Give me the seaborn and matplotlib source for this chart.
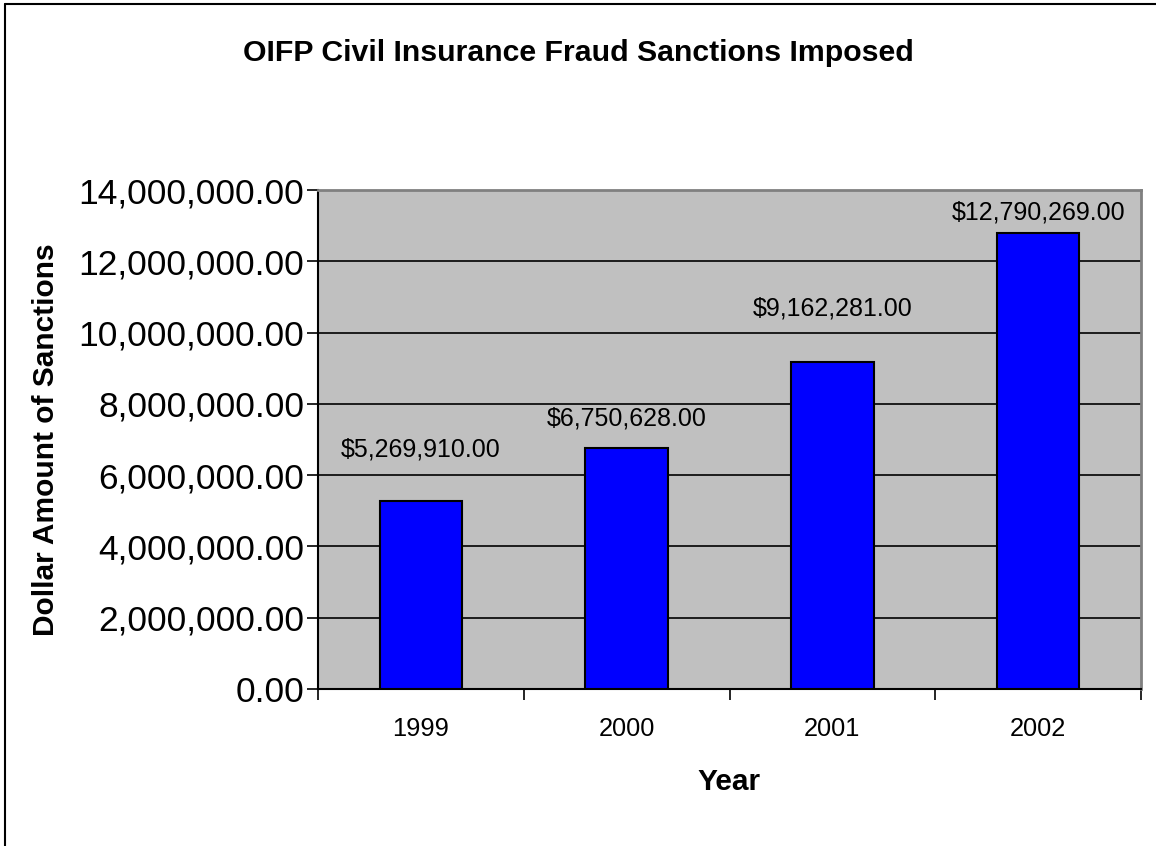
import numpy as np
import pandas as pd
import matplotlib
matplotlib.use("Agg")
import matplotlib.pyplot as plt
import seaborn as sns
from matplotlib.lines import Line2D

years = ["1999", "2000", "2001", "2002"]
sanctions = [5269910.00, 6750628.00, 9162281.00, 12790269.00]
value_labels = ["$5,269,910.00", "$6,750,628.00", "$9,162,281.00", "$12,790,269.00"]
label_offsets = [52, 30, 54, 21]  # px above bar top
y_ticks = [0, 2000000, 4000000, 6000000, 8000000, 10000000, 12000000, 14000000]

sns.set_style("ticks")
plt.rcParams['font.family'] = ['Liberation Sans', 'DejaVu Sans']
plt.rcParams['text.color'] = 'black'
plt.rcParams['xtick.color'] = 'black'
plt.rcParams['ytick.color'] = 'black'
plt.rcParams['axes.labelcolor'] = 'black'

df = pd.DataFrame({"Year": years, "Sanctions": sanctions})

fig = plt.figure(figsize=(11.56, 8.46), dpi=100)
ax = fig.add_axes([318 / 1156, 1 - 689 / 846, (1141 - 318) / 1156, (689 - 190) / 846])
ax.set_facecolor("#C0C0C0")

sns.barplot(data=df, x="Year", y="Sanctions", color="#0000FF", width=0.4,
            edgecolor="black", linewidth=1.5, saturation=1, ax=ax, zorder=3)

ax.set_ylim(0, 14000000)
ax.set_xlim(-0.5, 3.5)
ax.set_yticks(y_ticks)
ax.set_yticklabels([f"{v:,.2f}" for v in y_ticks], fontsize=25.5)
ax.yaxis.grid(True, color="black", linewidth=1.2, zorder=0)
ax.set_axisbelow(True)
ax.tick_params(axis="y", length=8, width=1.2, pad=2)

# category ticks at boundaries
ax.set_xticks([-0.5, 0.5, 1.5, 2.5, 3.5], minor=False)
ax.set_xticklabels([])
ax.set_xticks(range(len(years)), minor=True)
ax.set_xticklabels(years, minor=True, fontsize=18.3)
ax.tick_params(axis="x", which="major", length=8, width=1.2)
ax.tick_params(axis="x", which="minor", length=0, pad=20)

for side in ["top", "right"]:
    ax.spines[side].set_color("#808080")
    ax.spines[side].set_linewidth(2)
for side in ["left", "bottom"]:
    ax.spines[side].set_color("black")
    ax.spines[side].set_linewidth(1.5)

for i, (v, lab, off) in enumerate(zip(sanctions, value_labels, label_offsets)):
    ax.annotate(lab, xy=(i, v), xytext=(0, off * 0.72), textcoords="offset points",
                ha="center", va="center", fontsize=18)

ax.set_xlabel("Year", fontsize=21.5, fontweight="bold", labelpad=19.5)
ax.set_ylabel("Dollar Amount of Sanctions", fontsize=21.5, fontweight="bold", labelpad=13)

fig.text(578 / 1156, 1 - 53 / 846, "OIFP Civil Insurance Fraud Sanctions Imposed",
         ha="center", va="center", fontsize=21.8, fontweight="bold")

# outer frame lines (left and top)
fig.add_artist(Line2D([4.5 / 1156, 4.5 / 1156], [0, 1 - 4.5 / 846], transform=fig.transFigure,
                      color="black", linewidth=1.5))
fig.add_artist(Line2D([4.5 / 1156, 1], [1 - 4.5 / 846, 1 - 4.5 / 846], transform=fig.transFigure,
                      color="black", linewidth=1.5))

fig.savefig("out.png", dpi=100)
